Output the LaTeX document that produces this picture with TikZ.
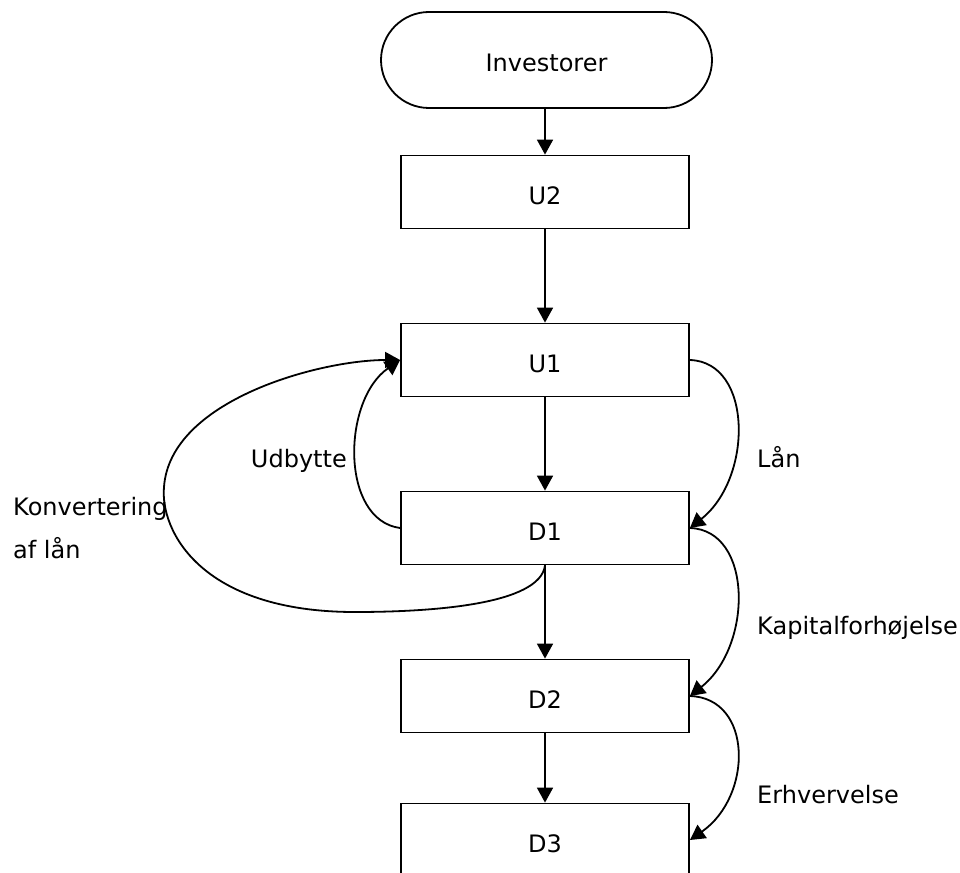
\documentclass[tikz,border=0pt]{standalone}
\usepackage{fontspec}
\setmainfont{DejaVu Sans}
\usetikzlibrary{arrows.meta}
\begin{document}
\begin{tikzpicture}[x=1pt,y=-1pt,
  every node/.style={font=\fontsize{24}{28}\selectfont},
  flowbox/.style={draw,line width=1.8pt,minimum width=288pt,minimum height=73pt,inner sep=0pt,text height=25pt,text depth=0pt},
  startbox/.style={draw,line width=1.8pt,rounded corners=48pt,minimum width=331pt,minimum height=96pt,inner sep=0pt,text height=24pt,text depth=0pt},
  conn/.style={line width=1.8pt,-{Triangle[length=15pt,width=16pt]}},
  lbl/.style={inner sep=0pt}]
\useasboundingbox (0,0) rectangle (960,872);
\node[startbox] (inv) at (546.5,60) {Investorer};
\node[flowbox] (u2) at (545,192) {U2};
\node[flowbox] (u1) at (545,360) {U1};
\node[flowbox] (d1) at (545,528) {D1};
\node[flowbox] (d2) at (545,696) {D2};
\node[flowbox] (d3) at (545,840) {D3};
\draw[conn] (u2.north |- inv.south) -- (u2);
\draw[conn] (u2) -- (u1);
\draw[conn] (u1) -- (d1);
\draw[conn] (d1) -- (d2);
\draw[conn] (d2) -- (d3);
\draw[conn] (u1.east) .. controls (753,362) and (753,478) .. (d1.east);
\draw[conn] (d1.east) .. controls (753,530) and (753,646) .. (d2.east);
\draw[conn] (d2.east) .. controls (753,698) and (753,796) .. (d3.east);
\draw[conn] (d1.west) .. controls (340,520) and (342,400) .. (u1.west);
\draw[conn] (d1.south) .. controls (540,605) and (430,612) .. (355,612)
  .. controls (200,612) and (160,530) .. (164,487)
  .. controls (170,400) and (320,360) .. (u1.west);
\node[lbl,anchor=base east] (udb) at (347,467) {Udbytte};
\node[lbl,anchor=base west] (laan) at (757,467) {Lån};
\node[lbl,anchor=base west] (kap) at (757,634) {Kapitalforhøjelse};
\node[lbl,anchor=base west] (erh) at (757,803) {Erhvervelse};
\node[lbl,anchor=base west] (konv) at (13,515) {Konvertering};
\node[lbl,anchor=base west] (aflaan) at (13,558) {af lån};
\end{tikzpicture}
\end{document}
